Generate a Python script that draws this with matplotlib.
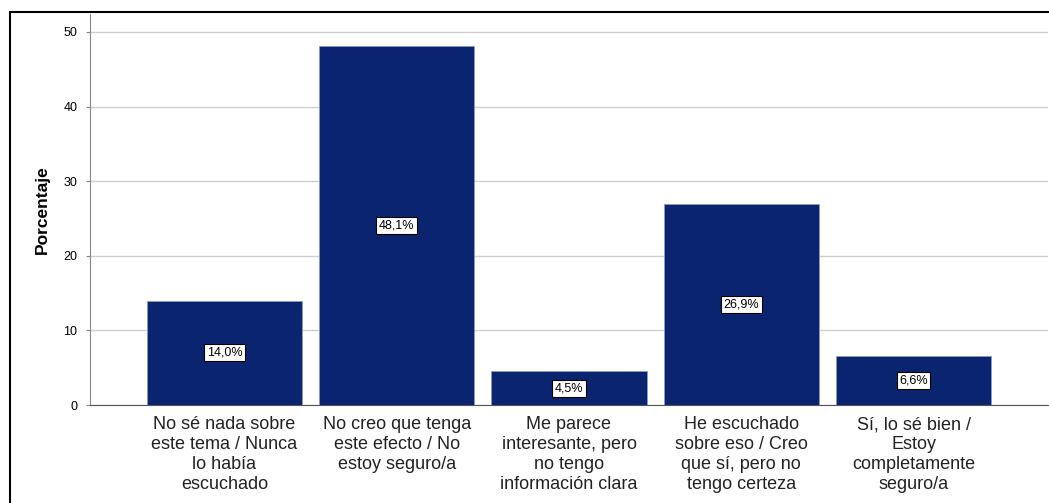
import matplotlib.pyplot as plt
import matplotlib.patches as patches

# datos del grafico
categorias = [
    'No sé nada sobre\neste tema / Nunca\nlo había\nescuchado',
    'No creo que tenga\neste efecto / No\nestoy seguro/a',
    'Me parece\ninteresante, pero\nno tengo\ninformación clara',
    'He escuchado\nsobre eso / Creo\nque sí, pero no\ntengo certeza',
    'Sí, lo sé bien /\nEstoy\ncompletamente\nseguro/a',
]
porcentajes = [14.0, 48.1, 4.5, 26.9, 6.6]
etiquetas = ['14,0%', '48,1%', '4,5%', '26,9%', '6,6%']
yticks = [0, 10, 20, 30, 40, 50]

plt.rcParams['font.family'] = ['Liberation Sans', 'DejaVu Sans']

fig = plt.figure(figsize=(10.49, 5.03), dpi=100)
ax = fig.add_axes([90/1049, 1 - 405/503, 958/1049, (405 - 14)/503])

# marco exterior
fig.patches.append(patches.Rectangle((10/1049, -0.1), 1.2, 1 - 12/503 + 0.1,
                                     transform=fig.transFigure, fill=False,
                                     edgecolor='black', linewidth=1.5))

x = range(len(porcentajes))
ax.bar(x, porcentajes, width=0.9, color='#0B2470', edgecolor='#8a9ac4',
       linewidth=0.6, zorder=3)

for i, v in enumerate(porcentajes):
    ax.text(i, v / 2, etiquetas[i], ha='center', va='center', fontsize=9,
            zorder=4,
            bbox=dict(boxstyle='square,pad=0.2', facecolor='white',
                      edgecolor='black', linewidth=0.8))

ax.set_xlim(-0.78, 4.78)
ax.set_ylim(0, 52.4)
ax.set_yticks(yticks)
ax.set_yticklabels([str(t) for t in yticks], fontsize=9)
ax.set_xticks(list(x))
ax.set_xticklabels(categorias, fontsize=13, linespacing=1.22, color='#222222')
ax.tick_params(axis='x', length=0, pad=8)
ax.tick_params(axis='y', length=3, color='#888888', pad=6)
ax.grid(axis='y', color='#d0d0d0', linewidth=1, zorder=0)

ax.spines['top'].set_visible(False)
ax.spines['right'].set_visible(False)
ax.spines['left'].set_color('#888888')
ax.spines['bottom'].set_color('#555555')

ax.set_ylabel('Porcentaje', fontsize=12.5, fontweight='bold', labelpad=10)

fig.savefig('out.png', dpi=100)
